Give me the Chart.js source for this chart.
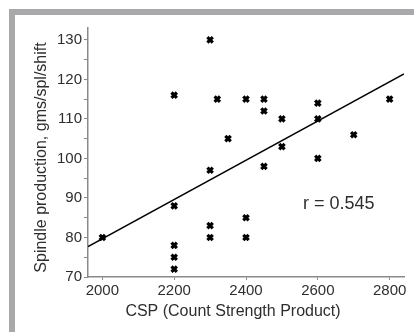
<!DOCTYPE html>
<html>
<head>
<meta charset="utf-8">
<script src="https://cdn.jsdelivr.net/npm/chart.js@4"></script>
<style>
  html, body { margin: 0; padding: 0; background: #fff; }
  #wrap { position: relative; width: 414px; height: 332px; overflow: hidden; }
  .band { position: absolute; background: #a9a9ab; }
  #top { left: 9px; top: 9px; right: 0; height: 6px; }
  #left { left: 9px; top: 9px; width: 6px; bottom: 0; }
  canvas { position: absolute; left: 0; top: 0; }
</style>
</head>
<body>
<div id="wrap">
  <div class="band" id="top"></div>
  <div class="band" id="left"></div>
  <canvas id="c" width="414" height="332"></canvas>
</div>
<script>
// ---- data ----
const cspValues = [2000, 2200, 2200, 2200, 2200, 2200, 2300, 2300, 2300, 2300, 2320, 2350, 2400, 2400, 2400, 2450, 2450, 2450, 2500, 2500, 2600, 2600, 2600, 2700, 2800];
const productionValues = [80, 116, 88, 78, 75, 72, 130, 97, 83, 80, 115, 105, 115, 85, 80, 115, 112, 98, 110, 103, 114, 110, 100, 106, 115];
const fitLineX = [1960, 2840];
const fitLineY = [77.7, 121.4];
const yTickLabels = [70, 80, 90, 100, 110, 120, 130];
const xTickLabels = [2000, 2200, 2400, 2600, 2800];
const xTitle = 'CSP (Count Strength Product)';
const yTitle = 'Spindle production, gms/spl/shift';
const rLabel = 'r = 0.545';

const points = cspValues.map((x, i) => ({ x: x, y: productionValues[i] }));
const fitLine = fitLineX.map((x, i) => ({ x: x, y: fitLineY[i] }));

const FONT = "'Liberation Sans', Arial, sans-serif";
const TEXT = '#2e2e2e';
const AXIS = '#8a8a8a';

const textPlugin = {
  id: 'texts',
  afterDraw(chart) {
    const ctx = chart.ctx;
    ctx.save();
    ctx.fillStyle = TEXT;
    ctx.textAlign = 'center';
    ctx.textBaseline = 'middle';
    ctx.font = '16px ' + FONT;
    ctx.fillText(xTitle, 233, 312);
    ctx.save();
    ctx.translate(42, 157.5);
    ctx.rotate(-Math.PI / 2);
    ctx.fillText(yTitle, 0, 0);
    ctx.restore();
    ctx.font = '18px ' + FONT;
    ctx.textAlign = 'left';
    ctx.fillText(rLabel, 303, 204);
    ctx.restore();
  }
};

new Chart(document.getElementById('c'), {
  type: 'scatter',
  data: {
    datasets: [
      {
        data: points,
        pointStyle: 'crossRot',
        pointRadius: 3.8,
        pointHoverRadius: 3.8,
        borderColor: '#000',
        backgroundColor: '#000',
        pointBorderWidth: 3.2,
        order: 0
      },
      {
        type: 'line',
        data: fitLine,
        borderColor: '#000',
        borderWidth: 1.5,
        pointRadius: 0,
        fill: false,
        order: 1
      }
    ]
  },
  options: {
    responsive: false,
    animation: false,
    events: [],
    layout: { padding: { top: 28, right: 10, left: 0, bottom: 0 } },
    plugins: { legend: { display: false }, tooltip: { enabled: false } },
    scales: {
      x: {
        type: 'linear',
        min: 1960,
        max: 2840,
        afterFit(s) { s.height = 55; },
        grid: { display: true, drawOnChartArea: false, drawTicks: true, tickLength: 3, color: AXIS, lineWidth: 1 },
        border: { display: true, color: AXIS, width: 1.5 },
        ticks: {
          stepSize: 200,
          includeBounds: false,
          autoSkip: false,
          maxRotation: 0,
          padding: 2,
          color: TEXT,
          font: { family: FONT, size: 15 },
          callback: (v) => xTickLabels.includes(v) ? String(v) : null
        }
      },
      y: {
        type: 'linear',
        min: 70,
        max: 133,
        afterFit(s) { s.width = 88; },
        grid: { display: true, drawOnChartArea: false, drawTicks: true, tickLength: 4, color: AXIS, lineWidth: 1 },
        border: { display: true, color: AXIS, width: 1.5 },
        ticks: {
          stepSize: 5,
          includeBounds: false,
          autoSkip: false,
          padding: 2,
          color: TEXT,
          font: { family: FONT, size: 15 },
          callback: (v) => (v % 5 !== 0) ? null : (yTickLabels.includes(v) ? String(v) : '')
        }
      }
    }
  },
  plugins: [textPlugin]
});
</script>
</body>
</html>
